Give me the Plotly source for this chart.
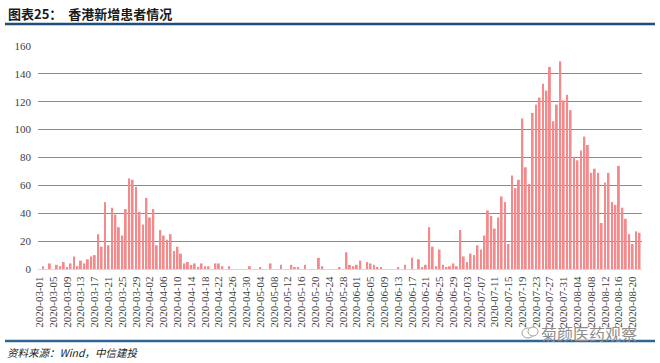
import plotly.graph_objects as go
import pandas as pd

# ---- data ----
start_date = "2020-03-01"
dates = [d.strftime("%Y-%m-%d") for d in pd.date_range(start_date, periods=175, freq="D")]
new_cases = [
    0, 2, 0, 4, 0, 3, 2, 5, 1, 4,          # 03-01 .. 03-10
    9, 2, 6, 4, 7, 9, 10, 25, 16, 48,      # 03-11 .. 03-20
    17, 44, 39, 30, 24, 43, 65, 64, 59, 41,  # 03-21 .. 03-30
    32, 51, 37, 43, 17, 28, 24, 21, 25, 13,  # 03-31 .. 04-09
    16, 11, 4, 5, 3, 4, 1, 4, 2, 2,        # 04-10 .. 04-19
    0, 4, 4, 2, 0, 2, 0, 0, 0, 0,          # 04-20 .. 04-29
    0, 2, 0, 0, 1, 0, 0, 4, 0, 0,          # 04-30 .. 05-09
    3, 0, 0, 3, 1, 1, 0, 3, 0, 0,          # 05-10 .. 05-19
    0, 8, 2, 0, 0, 0, 0, 1, 0, 12,         # 05-20 .. 05-29
    3, 2, 3, 6, 0, 5, 4, 3, 1, 1,          # 05-30 .. 06-08
    0, 0, 0, 0, 1, 0, 3, 0, 8, 0,          # 06-09 .. 06-18
    7, 1, 3, 30, 16, 2, 14, 3, 1, 2,       # 06-19 .. 06-28
    4, 2, 28, 9, 5, 11, 10, 17, 14, 24,    # 06-29 .. 07-08
    42, 38, 29, 37, 52, 48, 18, 67, 58, 64,  # 07-09 .. 07-18
    108, 73, 61, 112, 118, 123, 133, 128, 145, 106,  # 07-19 .. 07-28
    118, 149, 121, 125, 114, 80, 78, 85, 95, 89,     # 07-29 .. 08-07
    69, 72, 69, 33, 62, 69, 48, 46, 74, 44,  # 08-08 .. 08-17
    36, 25, 18, 27, 26,                      # 08-18 .. 08-22
]
tick_labels = dates[::4]

title_text = "<b>图表25：  香港新增患者情况</b>"
source_text = "<i>资料来源：Wind，中信建投</i>"
watermark_text = "菊颜医药观察"

# ---- layout geometry ----
W, H = 660, 363
ML, MR, MT, MB = 38, 18, 46, 94
PW, PH = W - ML - MR, H - MT - MB

def px(x):
    return (x - ML) / PW

def py(y):
    return (H - MB - y) / PH

fig = go.Figure()
fig.add_trace(go.Bar(
    x=dates, y=new_cases,
    marker=dict(color="#F48A8C", line=dict(width=0)),
    hoverinfo="x+y",
))

fig.update_layout(
    width=W, height=H,
    margin=dict(l=ML, r=MR, t=MT, b=MB),
    paper_bgcolor="white", plot_bgcolor="white",
    bargap=0.45,
    showlegend=False,
    font=dict(family="Liberation Serif", size=11, color="#404040"),
)
fig.update_xaxes(
    type="category",
    categoryorder="array", categoryarray=dates,
    tickmode="array", tickvals=tick_labels, ticktext=tick_labels,
    tickangle=-90,
    range=[-0.45, 174.7],
    showgrid=False,
    showline=True, linecolor="#d9d9d9", linewidth=1,
    ticks="", ticklabelstandoff=2,
    tickfont=dict(family="Liberation Serif", size=11, color="#404040"),
)
fig.update_yaxes(
    range=[0, 160], dtick=20,
    showgrid=True, gridcolor="#8a8a8a", gridwidth=1,
    zeroline=False, showline=False, ticks="",
    ticklabelstandoff=6,
    tickfont=dict(family="Liberation Serif", size=11, color="#404040"),
)

shapes = [
    dict(type="line", xref="paper", yref="paper",
         x0=px(5), x1=px(655), y0=py(24), y1=py(24),
         line=dict(color="#1F4E79", width=2.5)),
    dict(type="line", xref="paper", yref="paper",
         x0=px(5), x1=px(655), y0=py(341), y1=py(341),
         line=dict(color="#2E6496", width=2.5)),
    # small chat-bubble icon beside the watermark
    dict(type="circle", xref="paper", yref="paper",
         x0=px(522), x1=px(534), y0=py(338), y1=py(328),
         line=dict(color="#a0a0a0", width=1)),
    dict(type="circle", xref="paper", yref="paper",
         x0=px(528), x1=px(538), y0=py(336), y1=py(327),
         line=dict(color="#a0a0a0", width=1), fillcolor="white"),
]
fig.update_layout(shapes=shapes)

fig.add_annotation(text=title_text, xref="paper", yref="paper",
                   x=px(6), y=py(13), xanchor="left", yanchor="middle",
                   showarrow=False,
                   font=dict(family="Noto Sans CJK SC", size=13, color="#1a1a1a"))
fig.add_annotation(text=source_text, xref="paper", yref="paper",
                   x=px(5), y=py(352.5), xanchor="left", yanchor="middle",
                   showarrow=False,
                   font=dict(family="Noto Sans CJK SC", size=10.5, color="#1a1a1a"))
fig.add_annotation(text=watermark_text, xref="paper", yref="paper",
                   x=px(639), y=py(333), xanchor="right", yanchor="middle",
                   showarrow=False,
                   font=dict(family="Noto Sans CJK SC", size=16, color="#8c8c8c"))

fig.write_html(
    "out.html",
    config={"displayModeBar": False},
    post_script="document.body.style.margin='0';document.body.style.overflow='hidden';",
)
